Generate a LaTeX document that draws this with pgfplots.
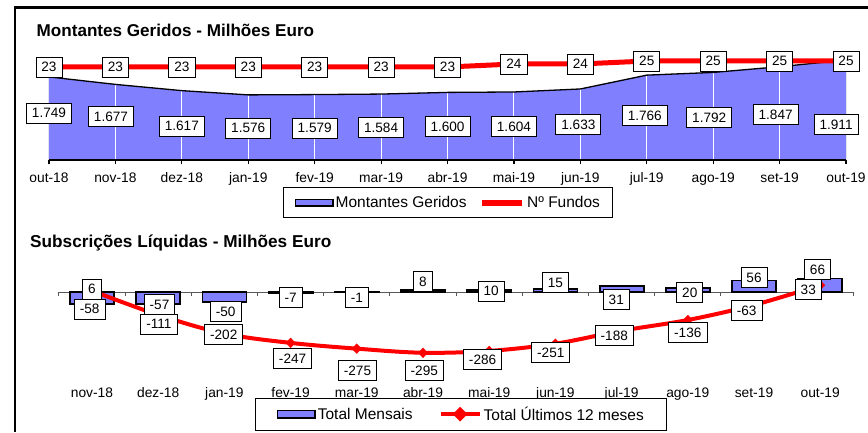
\documentclass[border=0pt]{standalone}
\usepackage{fontspec}
\setmainfont{Liberation Sans}
\usepackage{pgfplots}
\pgfplotsset{compat=1.18}
\usepackage{pgfplotstable}
\definecolor{areablue}{HTML}{8080FF}
\pgfplotsset{/pgf/number format/assume math mode=true,
  lbl/.style={every node near coord/.append style={anchor=center, draw=black, text=black, line width=0.8pt, fill=white,
     font=\fontsize{13.6}{16}\selectfont, inner xsep=5.5pt, inner ysep=0pt, text height=10pt, text depth=0pt, minimum height=20pt}}}

% Montantes Geridos (top area)
\pgfplotstableread{
x y
0 1749
1 1677
2 1617
3 1576
4 1579
5 1584
6 1600
7 1604
8 1633
9 1766
10 1792
11 1847
12 1911
}\montantes
% label positions for the area values
\pgfplotstableread{
x y v
0 1402 1749
0.933 1368 1677
2 1277 1617
3 1258 1576
4 1258 1579
5 1262 1584
6 1272 1600
7 1272 1604
7.97 1288 1633
8.97 1380 1766
9.94 1359 1792
10.94 1386 1847
11.85 1289 1911
}\montlabels
% N. Fundos
\pgfplotstableread{
x y
0 23
1 23
2 23
3 23
4 23
5 23
6 23
7 24
8 24
9 25
10 25
11 25
12 25
}\fundos
% Total Mensais
\pgfplotstableread{
x y
0 -58
1 -57
2 -50
3 -7
4 -1
5 8
6 10
7 15
8 31
9 20
10 56
11 66
}\mensais
\pgfplotstableread{
x y v
-0.035 -82.5 -58
1.02 -58.3 -57
2.02 -95.6 -50
3 -24.3 -7
4 -24.3 -1
5 50 8
6.03 4.9 10
7 48.5 15
7.92 -36.4 31
9.03 0 20
10 70.4 56
10.96 109.2 66
}\mensaislabels
% Total Ultimos 12 meses
\pgfplotstableread{
x y
0 6
1 -111
2 -202
3 -247
4 -275
5 -295
6 -286
7 -251
8 -188
9 -136
10 -63
11 33
}\ultimos
\pgfplotstableread{
x y v
0 14.6 6
1.01 -155.3 -111
1.99 -206.3 -202
3.03 -324.3 -247
4.01 -382.5 -275
5.02 -382.5 -295
5.9 -328.6 -286
6.93 -292.2 -251
7.89 -211.2 -188
9.0 -195.6 -136
9.89 -89.8 -63
10.82 11.2 33
}\ultimoslabels

\begin{document}
\begin{tikzpicture}[x=1pt,y=1pt]
\path[use as bounding box] (0,0) rectangle (868,432);
\draw[line width=2.2pt] (15,0) -- (15,424.5) -- (868,424.5);
\node[anchor=west, inner sep=0pt, font=\bfseries\fontsize{17.1}{20}\selectfont] at (36.5,401.5) {Montantes Geridos - Milhões Euro};
\node[anchor=west, inner sep=0pt, font=\bfseries\fontsize{17.2}{20}\selectfont] at (30,189) {Subscrições Líquidas - Milhões Euro};

% ---- top: area
\begin{axis}[at={(49pt,272pt)}, anchor=south west, x=66.42pt, y=0.104pt,
  xmin=0, xmax=12, ymin=950, ymax=2100,
  axis x line*=bottom, axis y line=none, axis on top,
  x axis line style={line width=1.5pt, black},
  xtick={0,...,12},
  xticklabels={out-18,nov-18,dez-18,jan-19,fev-19,mar-19,abr-19,mai-19,jun-19,jul-19,ago-19,set-19,out-19},
  tick align=outside, major tick length=4pt, xtick style={black, line width=1.2pt},
  ytick=\empty,
  xticklabel style={font=\fontsize{13.8}{16}\selectfont, yshift=-5pt}]
\addplot[fill=areablue, draw=none] table {\montantes} \closedcycle;
\addplot[ycomb, gray, line width=1pt] table {\montantes};
\addplot[ycomb, white, line width=1pt, restrict x to domain=0.5:11.5] table {\montantes};
\addplot[black, line width=1.3pt] table {\montantes};
\end{axis}

\begin{axis}[at={(49pt,272pt)}, anchor=south west, x=66.42pt, y=0.104pt,
  xmin=0, xmax=12, ymin=950, ymax=2100, hide axis, clip=false]
\addplot[draw=none, lbl, point meta=explicit,
  nodes near coords={\pgfmathprintnumber[1000 sep={.}]{\pgfplotspointmeta}}]
  table[x=x, y=y, meta=v] {\montlabels};
\end{axis}

\begin{axis}[at={(49pt,272pt)}, anchor=south west, x=66.42pt, y=3pt,
  xmin=0, xmax=12, ymin=-8, ymax=32, hide axis, clip=false,
  legend columns=2,
  legend style={at={(0.501,-0.357)}, anchor=center, draw=black, line width=1pt,
    font=\fontsize{15.5}{18}\selectfont, inner xsep=11pt, inner ysep=6.5pt,
    /tikz/every even column/.append style={column sep=11pt}}]
\addlegendimage{legend image code/.code={\draw[fill=areablue, draw=black, line width=1.5pt] (0pt,-3.4pt) rectangle (37.5pt,3.4pt);}}
\addlegendentry{Montantes Geridos}
\addplot[red, line width=5pt, lbl, nodes near coords, point meta=y,
  legend image code/.code={\draw[red, line width=5.5pt] (0pt,0pt) -- (40pt,0pt);}] table {\fundos};
\addlegendentry{Nº Fundos}
\end{axis}

% ---- bottom
\begin{axis}[at={(58.9pt,57.6pt)}, anchor=south west, x=66.2pt, y=0.206pt,
  xmin=-0.5, xmax=11.5, ymin=-400, ymax=130,
  axis line style={draw=none}, ytick=\empty,
  xtick={0,...,11},
  xticklabels={nov-18,dez-18,jan-19,fev-19,mar-19,abr-19,mai-19,jun-19,jul-19,ago-19,set-19,out-19},
  major tick length=0pt, clip=false,
  xticklabel style={font=\fontsize{13.8}{16}\selectfont, yshift=-10pt},
  legend columns=2,
  legend style={at={(0.5066,-0.3645)}, anchor=center, draw=black, line width=1pt,
    font=\fontsize{15.5}{18}\selectfont, inner xsep=21pt, inner ysep=6.5pt,
    /tikz/every even column/.append style={column sep=24pt}}]
\draw[line width=1pt, black!65] (axis cs:-0.5,0) -- (axis cs:11.5,0);
\pgfplotsinvokeforeach{-0.5,0.5,1.5,2.5,3.5,4.5,5.5,6.5,7.5,8.5,9.5,10.5,11.5}{
  \draw[line width=1pt, black!65] (axis cs:#1,0) -- ++(0pt,-4pt);}
\addplot[ybar, bar width=44pt, fill=areablue, draw=black, line width=1.8pt,
  legend image code/.code={\draw[fill=areablue, draw=black, line width=1.5pt] (0pt,-3.7pt) rectangle (37.5pt,3.7pt);}]
  table {\mensais};
\addlegendentry{Total Mensais}
\addplot[red, line width=4pt, smooth, tension=0.55, mark=diamond*, mark size=5pt,
  mark options={xscale=1.3, fill=red, draw=red, line width=0.1pt},
  legend image code/.code={\draw[red, line width=4pt] (0pt,0pt) -- (39pt,0pt);
     \fill[red] (19.5pt,4.5pt) -- (24pt,0pt) -- (19.5pt,-4.5pt) -- (15pt,0pt) -- cycle;}]
  table {\ultimos};
\addlegendentry{Total Últimos 12 meses}
\addplot[draw=none, forget plot, lbl, point meta=explicit, nodes near coords]
  table[x=x, y=y, meta=v] {\mensaislabels};
\addplot[draw=none, forget plot, lbl, point meta=explicit, nodes near coords]
  table[x=x, y=y, meta=v] {\ultimoslabels};
\end{axis}
\end{tikzpicture}
\end{document}
